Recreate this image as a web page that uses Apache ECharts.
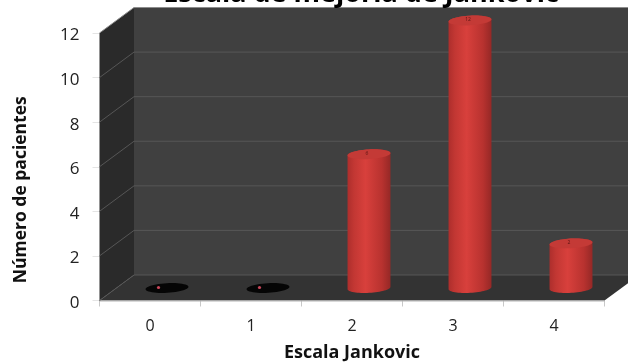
<!DOCTYPE html>
<html>
<head>
<meta charset="utf-8">
<style>html,body{margin:0;padding:0;background:#fff}#c{width:628px;height:362px}</style>
<script src="https://cdn.jsdelivr.net/npm/echarts@6/dist/echarts.min.js"></script>
</head>
<body>
<div id="c"></div>
<script>
const categories = ['0', '1', '2', '3', '4'];
const patients = [0, 0, 6, 12, 2];
const yTicks = [0, 2, 4, 6, 8, 10, 12];

// Pseudo-3D box depth in pixels, and where bars sit inside it
const DEPTH_X = 34.5, DEPTH_Y = -25.5;
const BAR_X = 17, BAR_Y = -12.5;
const RX = 21.5, RY = 4.8, TILT = -0.055;
const FONT = '"Open Sans", "Noto Sans", sans-serif';

function ellipsePoints(cx, cy, from, to, n) {
  const pts = [];
  for (let i = 0; i <= n; i++) {
    const t = from + (to - from) * i / n;
    const x = RX * Math.cos(t), y = RY * Math.sin(t);
    pts.push([cx + x * Math.cos(TILT) - y * Math.sin(TILT),
              cy + x * Math.sin(TILT) + y * Math.cos(TILT)]);
  }
  return pts;
}

// Back wall, side wall, floor and gridlines of the box
function renderChamber(params, api) {
  const v = api.value(1);
  const rect = params.coordSys;
  const l = rect.x, r = rect.x + rect.width;
  const y = api.coord([0, v])[1];
  const children = [];
  if (params.dataIndex === 0) {
    const top = api.coord([0, yTicks[yTicks.length - 1]])[1];
    const base = y;
    children.push(
      { type: 'polygon', shape: { points: [[l + DEPTH_X, top + DEPTH_Y], [r + DEPTH_X, top + DEPTH_Y], [r + DEPTH_X, base + DEPTH_Y], [l + DEPTH_X, base + DEPTH_Y]] }, style: { fill: '#404040' } },
      { type: 'polygon', shape: { points: [[l, top], [l + DEPTH_X, top + DEPTH_Y], [l + DEPTH_X, base + DEPTH_Y], [l, base]] }, style: { fill: '#2a2a2a' } },
      { type: 'polygon', shape: { points: [[l, base], [l + DEPTH_X, base + DEPTH_Y], [r + DEPTH_X, base + DEPTH_Y], [r, base]] }, style: { fill: '#333333' } },
      { type: 'line', shape: { x1: l, y1: base + 0.5, x2: r, y2: base + 0.5 }, style: { stroke: '#b4b4b4', lineWidth: 1 } }
    );
  }
  const isTop = params.dataIndex === yTicks.length - 1;
  children.push({
    type: 'polyline',
    shape: { points: [[l, y], [l + DEPTH_X, y + DEPTH_Y], [r + DEPTH_X, y + DEPTH_Y]] },
    style: { fill: 'none', stroke: isTop ? '#8c8c8c' : '#565656', lineWidth: 1 }
  });
  return { type: 'group', children };
}

// Cylinders, with a flat black disc for zero values
function renderBar(params, api) {
  const idx = api.value(0), v = api.value(1);
  const front = api.coord([idx, v]);
  const zero = api.coord([idx, 0]);
  const cx = front[0] + BAR_X;
  const topY = front[1] + BAR_Y;
  const baseY = zero[1] + BAR_Y;
  if (v === 0) {
    return { type: 'group', children: [
      { type: 'polygon', shape: { points: ellipsePoints(cx, baseY, 0, Math.PI * 2, 48) }, style: { fill: '#050505' } },
      { type: 'circle', shape: { cx: cx - 8.5, cy: baseY - 0.5, r: 1.6 }, style: { fill: '#c9475a' } }
    ] };
  }
  const body = ellipsePoints(cx, baseY, 0, Math.PI, 32)
    .concat(ellipsePoints(cx, topY, Math.PI, Math.PI * 2, 32));
  return { type: 'group', children: [
    { type: 'polygon', shape: { points: body }, style: {
      fill: new echarts.graphic.LinearGradient(0, 0, 1, 0, [
        { offset: 0, color: '#ad2e2c' },
        { offset: 0.15, color: '#c23733' },
        { offset: 0.42, color: '#d8403c' },
        { offset: 0.8, color: '#b8322f' },
        { offset: 1, color: '#952826' }
      ])
    } },
    { type: 'polygon', shape: { points: ellipsePoints(cx, topY, 0, Math.PI * 2, 48) }, style: { fill: '#c43a36' } },
    { type: 'text', style: { x: cx - 2, y: topY - 1, text: String(v), fill: '#5a1412', font: '5px ' + FONT, align: 'center', verticalAlign: 'middle' } }
  ] };
}

const chart = echarts.init(document.getElementById('c'), null, { renderer: 'canvas' });
chart.setOption({
  animation: false,
  backgroundColor: '#ffffff',
  title: {
    text: 'Escala de mejoría de Jankovic',
    left: 356, top: -24, textAlign: 'center',
    textStyle: { fontFamily: FONT, fontWeight: 'bold', fontSize: 27, color: '#000' }
  },
  grid: { left: 99.5, top: 33, width: 505, height: 267.5, outerBoundsMode: 'none' },
  xAxis: {
    type: 'category',
    data: categories,
    name: 'Escala Jankovic',
    nameLocation: 'middle',
    nameGap: 43,
    nameTextStyle: { fontFamily: FONT, fontWeight: 'bold', fontSize: 18, color: '#111' },
    axisLine: { show: false },
    axisTick: { show: true, length: 6, lineStyle: { color: '#c8c8c8' } },
    axisLabel: { margin: 18, fontFamily: FONT, fontSize: 16, color: '#222' },
    splitLine: { show: false }
  },
  yAxis: {
    type: 'value',
    min: 0, max: 12, interval: 2,
    name: 'Número de pacientes',
    nameLocation: 'middle',
    nameGap: 69,
    nameTextStyle: { fontFamily: FONT, fontWeight: 'bold', fontSize: 17.5, color: '#111', padding: [0, 46, 0, 0] },
    axisLine: { show: false },
    axisTick: { show: true, length: 7, lineStyle: { color: '#e4e4e4' } },
    axisLabel: {
      margin: 20,
      formatter: '{n|{value}}',
      rich: { n: { fontFamily: FONT, fontSize: 17, color: '#222', padding: [5, 0, 0, 0] } }
    },
    splitLine: { show: false }
  },
  series: [
    {
      type: 'custom', z: 1, silent: true,
      renderItem: renderChamber,
      data: yTicks.map(v => [0, v]),
      clip: false
    },
    {
      type: 'custom', z: 2, silent: true,
      renderItem: renderBar,
      data: patients.map((v, i) => [i, v]),
      clip: false
    }
  ]
});
</script>
</body>
</html>
